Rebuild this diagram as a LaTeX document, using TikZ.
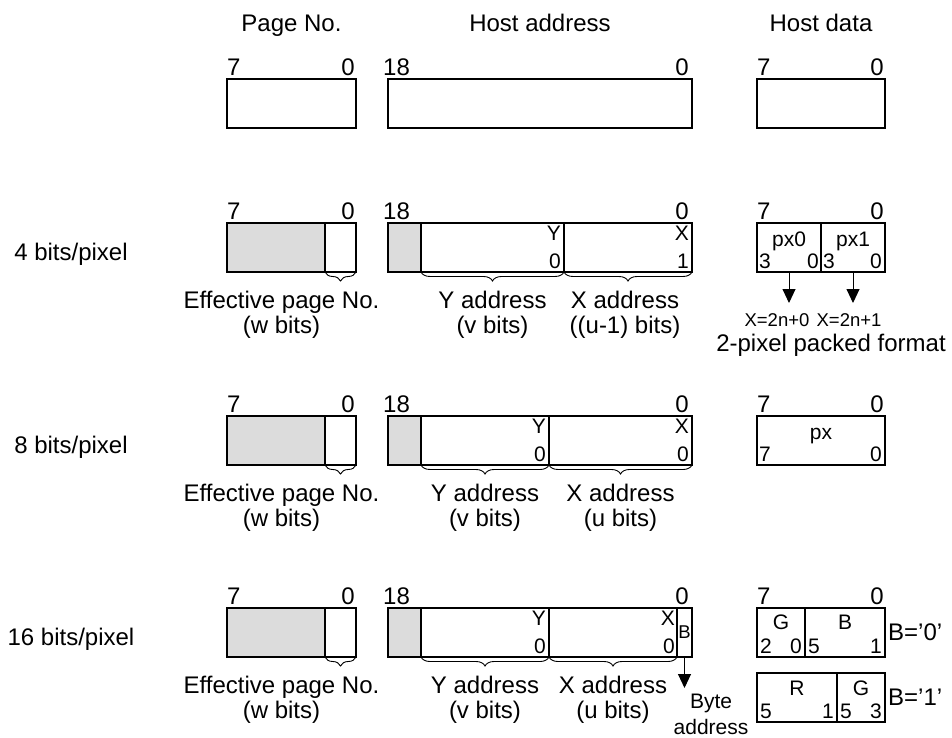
\documentclass[tikz,border=0pt]{standalone}
\usepackage{fontspec}
\setmainfont{Liberation Sans}
\usetikzlibrary{arrows.meta,positioning,decorations.pathreplacing}

\definecolor{sparegray}{RGB}{220,220,220}
\newcommand{\lbltxt}{\fontsize{24}{25}\selectfont}
\newcommand{\bittxt}{\fontsize{21}{23}\selectfont}
\newcommand{\pxtxt}{\fontsize{18.5}{20}\selectfont}
\newcommand{\bytetxt}{\fontsize{21}{26}\selectfont}

\begin{document}
\begin{tikzpicture}[
  x=1pt, y=-1pt,
  >={Triangle[width=13pt,length=14pt]},
  field/.style={
    draw,
    line width=1.1pt,
    inner sep=0pt,
    outer sep=0pt,
    minimum width=#1,
    minimum height=49pt,
    anchor=north west
  },
  spare/.style={
    field=#1,
    fill=sparegray
  },
  note/.style={font=\lbltxt, inner sep=0pt, align=center},
  bitno/.style={font=\lbltxt, inner sep=0pt},
  bit/.style={font=\bittxt, inner sep=0pt},
  fieldbrace/.style={
    decorate,
    decoration={brace, mirror, amplitude=9pt},
    line width=0.9pt
  },
  pick/.style={->, line width=1pt}
]
\useasboundingbox (0,0) rectangle (952,738);

% Plain registers
\node[field=129pt] (pg0) at (227,79) {};
\node[field=304pt] (ha0) at (388,79) {};
\node[field=128pt] (hd0) at (757,79) {};

% 4 bits/pixel
\node[spare=98pt] (pg1) at (227,223) {};
\node[field=31pt] (pg1e) at (pg1.north east) {};
\node[spare=33pt] (ha1) at (388,223) {};
\node[field=143pt] (ha1y) at (ha1.north east) {};
\node[field=128pt] (ha1x) at (ha1y.north east) {};
\node[field=64pt] (hd1) at (757,223) {};
\node[field=64pt] (hd1b) at (hd1.north east) {};

% 8 bits/pixel
\node[spare=98pt] (pg2) at (227,416) {};
\node[field=31pt] (pg2e) at (pg2.north east) {};
\node[spare=33pt] (ha2) at (388,416) {};
\node[field=128pt] (ha2y) at (ha2.north east) {};
\node[field=143pt] (ha2x) at (ha2y.north east) {};
\node[field=128pt] (hd2) at (757,416) {};

% 16 bits/pixel
\node[spare=98pt] (pg3) at (227,608) {};
\node[field=31pt] (pg3e) at (pg3.north east) {};
\node[spare=33pt] (ha3) at (388,608) {};
\node[field=128pt] (ha3y) at (ha3.north east) {};
\node[field=128pt] (ha3x) at (ha3y.north east) {};
\node[field=15pt] (ha3b) at (ha3x.north east) {};
\node[field=48pt] (hd3) at (757,608) {};
\node[field=80pt] (hd3b) at (hd3.north east) {};
\node[field=80pt] (hd4) at (757,673) {};
\node[field=48pt] (hd4b) at (hd4.north east) {};

% Column headers
\node[note, anchor=base] (hdrpage) at ([yshift=47pt]pg0.north) {Page No.};
\node[note, anchor=base] (hdrhost) at ([yshift=47pt]ha0.north) {Host address};
\node[note, anchor=base] (hdrdata) at ([yshift=47pt]hd0.north) {Host data};

% Row labels
\node[note, anchor=base] (bpp4) at (71,260) {4 bits/pixel};
\node[note, anchor=base] (bpp8) at (71,453) {8 bits/pixel};
\node[note, anchor=base] (bpp16) at (71,645) {16 bits/pixel};

% Bit numbers above the registers
\node[bitno, anchor=south west] (pg0h) at ([yshift=3pt]pg0.north west) {7};
\node[bitno, anchor=south east] (pg0l) at ([xshift=-1pt,yshift=3pt]pg0.north east) {0};
\node[bitno, anchor=south west] (ha0h) at ([xshift=-5pt,yshift=3pt]ha0.north west) {18};
\node[bitno, anchor=south east] (ha0l) at ([xshift=-3pt,yshift=3pt]ha0.north east) {0};
\node[bitno, anchor=south west] (hd0h) at ([yshift=3pt]hd0.north west) {7};
\node[bitno, anchor=south east] (hd0l) at ([xshift=-1pt,yshift=3pt]hd0.north east) {0};

\node[bitno, anchor=south west] (pg1h) at ([yshift=3pt]pg1.north west) {7};
\node[bitno, anchor=south east] (pg1l) at ([xshift=-1pt,yshift=3pt]pg1e.north east) {0};
\node[bitno, anchor=south west] (ha1h) at ([xshift=-5pt,yshift=3pt]ha1.north west) {18};
\node[bitno, anchor=south east] (ha1l) at ([xshift=-3pt,yshift=3pt]ha1x.north east) {0};
\node[bitno, anchor=south west] (hd1h) at ([yshift=3pt]hd1.north west) {7};
\node[bitno, anchor=south east] (hd1l) at ([xshift=-1pt,yshift=3pt]hd1b.north east) {0};

\node[bitno, anchor=south west] (pg2h) at ([yshift=3pt]pg2.north west) {7};
\node[bitno, anchor=south east] (pg2l) at ([xshift=-1pt,yshift=3pt]pg2e.north east) {0};
\node[bitno, anchor=south west] (ha2h) at ([xshift=-5pt,yshift=3pt]ha2.north west) {18};
\node[bitno, anchor=south east] (ha2l) at ([xshift=-3pt,yshift=3pt]ha2x.north east) {0};
\node[bitno, anchor=south west] (hd2h) at ([yshift=3pt]hd2.north west) {7};
\node[bitno, anchor=south east] (hd2l) at ([xshift=-1pt,yshift=3pt]hd2.north east) {0};

\node[bitno, anchor=south west] (pg3h) at ([yshift=3pt]pg3.north west) {7};
\node[bitno, anchor=south east] (pg3l) at ([xshift=-1pt,yshift=3pt]pg3e.north east) {0};
\node[bitno, anchor=south west] (ha3h) at ([xshift=-5pt,yshift=3pt]ha3.north west) {18};
\node[bitno, anchor=south east] (ha3l) at ([xshift=-3pt,yshift=3pt]ha3b.north east) {0};
\node[bitno, anchor=south west] (hd3h) at ([yshift=3pt]hd3.north west) {7};
\node[bitno, anchor=south east] (hd3l) at ([xshift=-1pt,yshift=3pt]hd3b.north east) {0};

% Bit marks inside the host address
\node[bit, anchor=north east] (y1) at ([xshift=-3pt,yshift=-3pt]ha1y.north east) {Y};
\node[bit, anchor=base east] (y1lo) at ([xshift=-3pt,yshift=4pt]ha1y.south east) {0};
\node[bit, anchor=north east] (x1) at ([xshift=-3pt,yshift=-3pt]ha1x.north east) {X};
\node[bit, anchor=base east] (x1lo) at ([xshift=-3pt,yshift=4pt]ha1x.south east) {1};

\node[bit, anchor=north east] (y2) at ([xshift=-3pt,yshift=-3pt]ha2y.north east) {Y};
\node[bit, anchor=base east] (y2lo) at ([xshift=-3pt,yshift=4pt]ha2y.south east) {0};
\node[bit, anchor=north east] (x2) at ([xshift=-3pt,yshift=-3pt]ha2x.north east) {X};
\node[bit, anchor=base east] (x2lo) at ([xshift=-3pt,yshift=4pt]ha2x.south east) {0};

\node[bit, anchor=north east] (y3) at ([xshift=-3pt,yshift=-3pt]ha3y.north east) {Y};
\node[bit, anchor=base east] (y3lo) at ([xshift=-3pt,yshift=4pt]ha3y.south east) {0};
\node[bit, anchor=north east] (x3) at ([xshift=-2pt,yshift=-3pt]ha3x.north east) {X};
\node[bit, anchor=base east] (x3lo) at ([xshift=-2pt,yshift=4pt]ha3x.south east) {0};
\node[bit, font=\pxtxt] (bsel) at (ha3b.center) {B};

% Host data contents
\node[bit, anchor=base] (px0) at ([yshift=-23pt]hd1.north) {px0};
\node[bit, anchor=base west] (px0h) at ([xshift=2pt,yshift=4pt]hd1.south west) {3};
\node[bit, anchor=base east] (px0l) at ([xshift=-2pt,yshift=4pt]hd1.south east) {0};
\node[bit, anchor=base] (px1) at ([yshift=-23pt]hd1b.north) {px1};
\node[bit, anchor=base west] (px1h) at ([xshift=2pt,yshift=4pt]hd1b.south west) {3};
\node[bit, anchor=base east] (px1l) at ([xshift=-3pt,yshift=4pt]hd1b.south east) {0};

\node[bit, anchor=base] (px) at ([yshift=-23pt]hd2.north) {px};
\node[bit, anchor=base west] (pxh) at ([xshift=2pt,yshift=4pt]hd2.south west) {7};
\node[bit, anchor=base east] (pxl) at ([xshift=-3pt,yshift=4pt]hd2.south east) {0};

\node[bit, anchor=base] (glo) at ([yshift=-21pt]hd3.north) {G};
\node[bit, anchor=base west] (gloh) at ([xshift=3pt,yshift=4pt]hd3.south west) {2};
\node[bit, anchor=base east] (glol) at ([xshift=-3pt,yshift=4pt]hd3.south east) {0};
\node[bit, anchor=base] (blu) at ([yshift=-21pt]hd3b.north) {B};
\node[bit, anchor=base west] (bluh) at ([xshift=3pt,yshift=4pt]hd3b.south west) {5};
\node[bit, anchor=base east] (blul) at ([xshift=-3pt,yshift=4pt]hd3b.south east) {1};
\node[bit, anchor=base] (red) at ([yshift=-22pt]hd4.north) {R};
\node[bit, anchor=base west] (redh) at ([xshift=3pt,yshift=4pt]hd4.south west) {5};
\node[bit, anchor=base east] (redl) at ([xshift=-3pt,yshift=4pt]hd4.south east) {1};
\node[bit, anchor=base] (ghi) at ([yshift=-22pt]hd4b.north) {G};
\node[bit, anchor=base west] (ghih) at ([xshift=3pt,yshift=4pt]hd4b.south west) {5};
\node[bit, anchor=base east] (ghil) at ([xshift=-3pt,yshift=4pt]hd4b.south east) {3};

\node[note, anchor=west] (bsel0) at ([xshift=3pt]hd3b.east) {B='0'};
\node[note, anchor=west] (bsel1) at ([xshift=3pt]hd4b.east) {B='1'};

% Pixel split
\node[bit, font=\pxtxt, below=41pt of hd1.south, xshift=-12pt] (xeven) {X=2n+0};
\node[bit, font=\pxtxt, below=41pt of hd1b.south, xshift=-4pt] (xodd) {X=2n+1};
\draw[pick, shorten >=10pt] (hd1.south) -- (hd1.south |- xeven.north);
\draw[pick, shorten >=10pt] (hd1b.south) -- (hd1b.south |- xodd.north);
\node[note, anchor=base] (packed) at (831,351) {2-pixel packed format};

% Field braces
\draw[fieldbrace] (pg1e.south west) -- (pg1e.south east)
  node[note, midway, below=19pt, xshift=-59pt] (eff1) {Effective page No.\\(w bits)};
\draw[fieldbrace] (ha1y.south west) -- (ha1y.south east)
  node[note, midway, below=19pt] (yad1) {Y address\\(v bits)};
\draw[fieldbrace] (ha1x.south west) -- (ha1x.south east)
  node[note, midway, below=19pt, xshift=-3pt] (xad1) {X address\\((u-1) bits)};

\draw[fieldbrace] (pg2e.south west) -- (pg2e.south east)
  node[note, midway, below=19pt, xshift=-59pt] (eff2) {Effective page No.\\(w bits)};
\draw[fieldbrace] (ha2y.south west) -- (ha2y.south east)
  node[note, midway, below=19pt] (yad2) {Y address\\(v bits)};
\draw[fieldbrace] (ha2x.south west) -- (ha2x.south east)
  node[note, midway, below=19pt] (xad2) {X address\\(u bits)};

\draw[fieldbrace] (pg3e.south west) -- (pg3e.south east)
  node[note, midway, below=19pt, xshift=-59pt] (eff3) {Effective page No.\\(w bits)};
\draw[fieldbrace] (ha3y.south west) -- (ha3y.south east)
  node[note, midway, below=19pt] (yad3) {Y address\\(v bits)};
\draw[fieldbrace] (ha3x.south west) -- (ha3x.south east)
  node[note, midway, below=19pt] (xad3) {X address\\(u bits)};

% Byte select
\coordinate[below=31pt of ha3b.south] (bytetip);
\draw[pick] (ha3b.south) -- (bytetip);
\node[note, font=\bytetxt, anchor=north] (bytead) at (711,694) {Byte\\address};

\end{tikzpicture}
\end{document}
